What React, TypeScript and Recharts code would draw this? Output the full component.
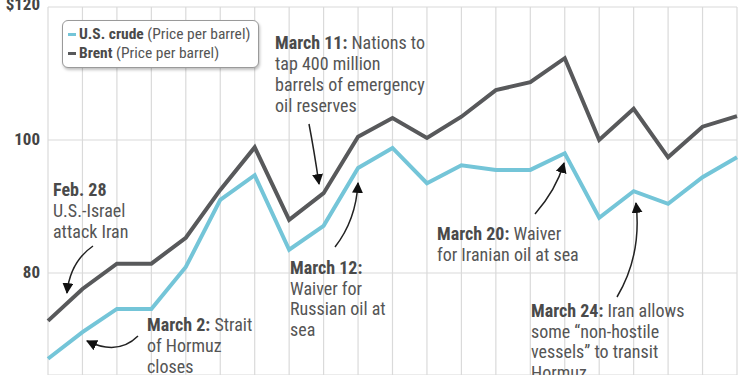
import { LineChart, Line, XAxis, YAxis, CartesianGrid } from "recharts"

const days = [
  "Feb. 27", "Mar. 2", "Mar. 3", "Mar. 4", "Mar. 5", "Mar. 6", "Mar. 9", "Mar. 10", "Mar. 11",
  "Mar. 12", "Mar. 13", "Mar. 16", "Mar. 17", "Mar. 18", "Mar. 19", "Mar. 20", "Mar. 23",
  "Mar. 24", "Mar. 25", "Mar. 26", "Mar. 27",
]
const usCrude = [
  67.1, 71.1, 74.6, 74.6, 80.9, 91.0, 94.7, 83.5, 87.1, 95.8, 98.8,
  93.5, 96.2, 95.5, 95.5, 98.0, 88.3, 92.3, 90.4, 94.4, 97.4,
]
const brent = [
  72.8, 77.6, 81.4, 81.4, 85.3, 92.5, 98.9, 88.0, 92.0, 100.5, 103.3,
  100.3, 103.5, 107.5, 108.7, 112.3, 100.0, 104.7, 97.4, 102.0, 103.6,
]
const yTicks = [80, 100, 120]

const data = days.map((day, i) => ({ day, crude: usCrude[i], brent: brent[i] }))

const FONT = "'Liberation Sans Narrow', 'Arial Narrow', 'Roboto Condensed', sans-serif"
const BOLD = "#4a4a4a"
const REG = "#555"

function YTick(props: any) {
  const { y, payload } = props
  const v = payload.value
  return (
    <text x={40} y={y + (v === 120 ? -5 : -1)} textAnchor="end" dominantBaseline="central"
      fontFamily={FONT} fontWeight="bold" fontSize={17} fill="#444">
      {v === 120 ? "$120" : v}
    </text>
  )
}

// annotation: bold lead-in, optional text after it on the same line, then extra lines
function Note({ x, y, lead, first = "", more, lh = 21 }: { x: number; y: number; lead: string; first?: string; more: string[]; lh?: number }) {
  return (
    <text x={x} y={y} fontFamily={FONT} fontSize={18} fill={REG}>
      <tspan fontWeight="bold" fill={BOLD}>{lead}</tspan>
      {first ? <tspan> {first}</tspan> : null}
      {more.map((t, i) => (
        <tspan key={i} x={x} y={y + lh * (i + 1)}>{t}</tspan>
      ))}
    </text>
  )
}

export default function App() {
  return (
    <div style={{ position: "absolute", left: 0, top: 0, width: 750, height: 375, background: "#fff", overflow: "hidden" }}>
      <LineChart width={750} height={375} data={data} margin={{ top: 7, right: 13, bottom: 0, left: 0 }}>
        <CartesianGrid stroke="#dadada" strokeWidth={1.2} />
        <XAxis dataKey="day" hide interval={0} />
        <YAxis width={48} domain={[64.66, 120]} ticks={yTicks} allowDataOverflow
          axisLine={false} tickLine={false} tick={<YTick />} />
        <Line type="linear" dataKey="crude" stroke="#74c5d8" strokeWidth={4} dot={false} isAnimationActive={false} />
        <Line type="linear" dataKey="brent" stroke="#58595b" strokeWidth={4} dot={false} isAnimationActive={false} />
      </LineChart>

      <svg width={750} height={375} style={{ position: "absolute", left: 0, top: 0, pointerEvents: "none" }}>
        <defs>
          <marker id="ah" viewBox="0 0 10 10" refX="9" refY="5" markerWidth="11" markerHeight="11"
            markerUnits="userSpaceOnUse" orient="auto">
            <path d="M0,0 L10,5 L0,10 z" fill="#111" />
          </marker>
        </defs>
        <g fill="none" stroke="#222" strokeWidth={1.5} markerEnd="url(#ah)">
          <path d="M93,246 Q70,262 67,293" />
          <path d="M138,336 Q118,356 87,341" />
          <path d="M309,124 Q314,150 319,184" />
          <path d="M335,247 Q356,220 358,183" />
          <path d="M535,214 Q556,190 564,163" />
          <path d="M617,297 Q642,255 636,203" />
        </g>
        <Note x={53} y={196} lead="Feb. 28" more={["U.S.-Israel", "attack Iran"]} />
        <Note x={275} y={49} lead="March 11:" first="Nations to" more={["tap 400 million", "barrels of emergency", "oil reserves"]} />
        <Note x={147} y={331} lead="March 2:" first="Strait" more={["of Hormuz", "closes"]} />
        <Note x={290} y={274} lead="March 12:" more={["Waiver for", "Russian oil at", "sea"]} lh={20.5} />
        <Note x={437} y={240} lead="March 20:" first="Waiver" more={["for Iranian oil at sea"]} />
        <Note x={531} y={317} lead="March 24:" first="Iran allows" more={["some \u201cnon-hostile", "vessels\u201d to transit", "Hormuz"]} lh={20.6} />
      </svg>

      <div style={{
        position: "absolute", left: 62, top: 20, width: 197, height: 48, background: "#fff",
        border: "1px solid #9a9a9a", borderRadius: 6, boxShadow: "1px 2px 3px rgba(0,0,0,0.25)",
        fontFamily: FONT, fontSize: 15.5, color: REG, boxSizing: "border-box", padding: "4px 0 0 5px", lineHeight: "19px",
      }}>
        {[["U.S. crude", "#74c5d8"], ["Brent", "#58595b"]].map(([name, c]) => (
          <div key={name} style={{ display: "flex", alignItems: "center", whiteSpace: "nowrap" }}>
            <span style={{ display: "inline-block", width: 8, height: 3, background: c, marginRight: 3 }} />
            <span style={{ fontWeight: "bold", color: BOLD }}>{name}</span>
            <span>&nbsp;(Price per barrel)</span>
          </div>
        ))}
      </div>
    </div>
  )
}
